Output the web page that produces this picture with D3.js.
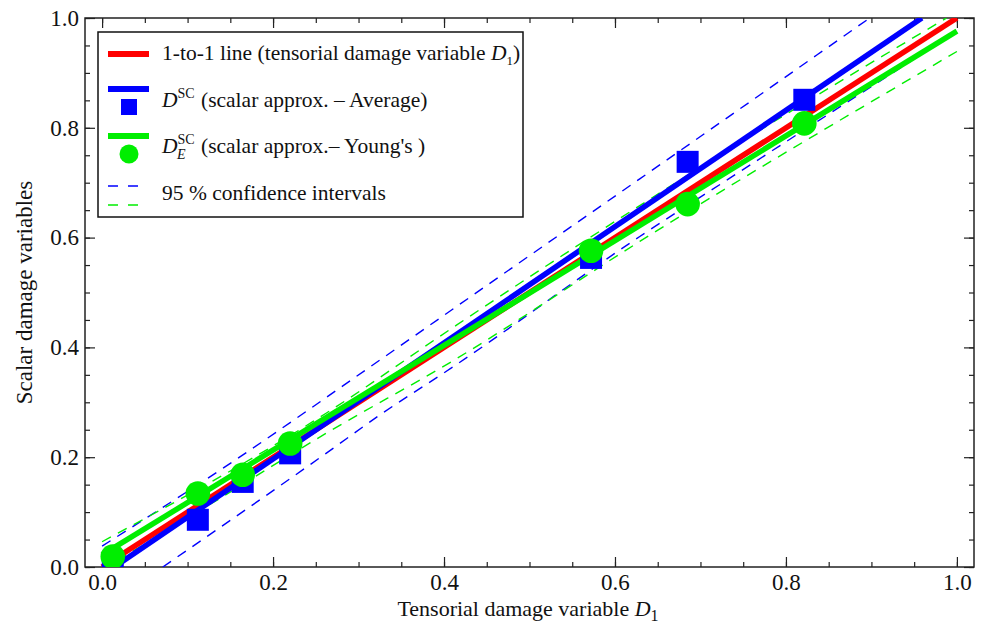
<!DOCTYPE html>
<html lang="en">
<head>
    <meta charset="UTF-8">
    <title>Scalar vs tensorial damage</title>
    <script src="https://d3js.org/d3.v7.min.js"></script>
    <style>
        body { margin: 0; background: #fff; }
        svg { font-family: "Liberation Serif", "DejaVu Serif", serif; }
    </style>
</head>
<body>
<script>
    // points
    const tensorD = [0.0125, 0.112, 0.1645, 0.22, 0.572, 0.685, 0.8215];
    const scAverage = [0.003, 0.086, 0.155, 0.207, 0.563, 0.738, 0.851];
    const scYoung = [0.019, 0.134, 0.168, 0.225, 0.576, 0.661, 0.808];

    // fitted lines [x, y]
    const oneToOne = [[0, 0], [1, 1]];
    const fitAverage = [[0, -0.015], [0.959, 1.0]];
    const fitYoung = [[0, 0.022], [1, 0.976]];

    // 95 % confidence bands [x, y]
    const avgUpper = [[0, 0.038], [0.153, 0.192], [0.325, 0.377], [0.417, 0.477], [0.629, 0.707], [0.898, 1.0]];
    const avgLower = [[0.071, 0.0], [0.262, 0.207], [0.325, 0.277], [0.411, 0.365], [0.629, 0.602], [0.746, 0.72], [0.863, 0.838], [1.0, 0.975]];
    const youngUpper = [[0, 0.046], [0.262, 0.28], [0.415, 0.441], [0.707, 0.735], [0.793, 0.818], [0.988, 1.0]];
    const youngLower = [[0, -0.005], [0.122, 0.11], [0.262, 0.2435], [0.413, 0.378], [0.629, 0.593], [1.0, 0.939]];

    const majorTicks = [0, 0.2, 0.4, 0.6, 0.8, 1.0];
    const minorTicks = d3.range(0, 21).map(i => i * 0.05);

    const blue = "#0000ff", red = "#ff0000", green = "#00ee00";

    const width = 984, height = 634;
    const frame = { left: 85, right: 974, top: 18, bottom: 567 };
    const serif = "Liberation Serif";

    const svg = d3.select("body").append("svg")
        .attr("width", width)
        .attr("height", height)
        .style("font-family", serif);

    const x = d3.scaleLinear().domain([-0.02, 1.02]).range([frame.left, frame.right]);
    const y = d3.scaleLinear().domain([0, 1]).range([frame.bottom, frame.top]);

    svg.append("clipPath").attr("id", "plot")
        .append("rect")
        .attr("x", frame.left).attr("y", frame.top)
        .attr("width", frame.right - frame.left).attr("height", frame.bottom - frame.top);

    // axes: inward ticks on all four sides
    const fmt = d3.format(".1f");
    function styleAxis(g) {
        g.attr("font-family", serif).attr("font-size", 23);
        g.select(".domain").remove();
        g.selectAll(".tick line").attr("stroke", "#222").attr("stroke-width", 1.2);
        g.selectAll(".tick text").attr("fill", "#111");
    }
    svg.append("g").attr("transform", `translate(0,${frame.bottom})`)
        .call(d3.axisBottom(x).tickValues(minorTicks).tickSize(-5).tickFormat(""))
        .call(styleAxis);
    svg.append("g").attr("transform", `translate(0,${frame.bottom})`)
        .call(d3.axisBottom(x).tickValues(majorTicks).tickSize(-10).tickPadding(7).tickFormat(fmt))
        .call(styleAxis);
    svg.append("g").attr("transform", `translate(0,${frame.top})`)
        .call(d3.axisTop(x).tickValues(minorTicks).tickSize(-5).tickFormat(""))
        .call(styleAxis);
    svg.append("g").attr("transform", `translate(0,${frame.top})`)
        .call(d3.axisTop(x).tickValues(majorTicks).tickSize(-10).tickFormat(""))
        .call(styleAxis);
    svg.append("g").attr("transform", `translate(${frame.left},0)`)
        .call(d3.axisLeft(y).tickValues(minorTicks).tickSize(-5).tickFormat(""))
        .call(styleAxis);
    svg.append("g").attr("transform", `translate(${frame.left},0)`)
        .call(d3.axisLeft(y).tickValues(majorTicks).tickSize(-10).tickPadding(6).tickFormat(fmt))
        .call(styleAxis);
    svg.append("g").attr("transform", `translate(${frame.right},0)`)
        .call(d3.axisRight(y).tickValues(minorTicks).tickSize(-5).tickFormat(""))
        .call(styleAxis);
    svg.append("g").attr("transform", `translate(${frame.right},0)`)
        .call(d3.axisRight(y).tickValues(majorTicks).tickSize(-10).tickFormat(""))
        .call(styleAxis);

    svg.append("rect")
        .attr("x", frame.left).attr("y", frame.top)
        .attr("width", frame.right - frame.left).attr("height", frame.bottom - frame.top)
        .attr("fill", "none").attr("stroke", "#222").attr("stroke-width", 1.5);

    const plot = svg.append("g").attr("clip-path", "url(#plot)");
    const line = d3.line().x(d => x(d[0])).y(d => y(d[1]));
    const band = d3.line().x(d => x(d[0])).y(d => y(d[1])).curve(d3.curveMonotoneX);

    // dashed confidence bands
    [[avgUpper, blue], [avgLower, blue], [youngUpper, green], [youngLower, green]].forEach(([pts, c]) => {
        plot.append("path").datum(pts)
            .attr("fill", "none").attr("stroke", c)
            .attr("stroke-width", 1.4).attr("stroke-dasharray", "10,8")
            .attr("d", band);
    });

    // thick fitted lines
    [[oneToOne, red], [fitAverage, blue], [fitYoung, green]].forEach(([pts, c]) => {
        plot.append("path").datum(pts)
            .attr("fill", "none").attr("stroke", c)
            .attr("stroke-width", 5.5)
            .attr("d", line);
    });

    // markers
    const sq = 22;
    plot.selectAll(".sq").data(tensorD).enter().append("rect")
        .attr("x", d => x(d) - sq / 2)
        .attr("y", (d, i) => y(scAverage[i]) - sq / 2)
        .attr("width", sq).attr("height", sq)
        .attr("fill", blue);
    plot.selectAll(".dot").data(tensorD).enter().append("circle")
        .attr("cx", d => x(d))
        .attr("cy", (d, i) => y(scYoung[i]))
        .attr("r", 12.3)
        .attr("fill", green);

    // axis titles
    const xt = svg.append("text")
        .attr("x", 528).attr("y", 616)
        .attr("text-anchor", "middle")
        .style("font-size", "22px").attr("fill", "#111");
    xt.append("tspan").text("Tensorial damage variable ");
    xt.append("tspan").style("font-style", "italic").text("D");
    xt.append("tspan").attr("dy", 5).style("font-size", "16px").text("1");

    svg.append("text")
        .attr("transform", `translate(32,${(frame.top + frame.bottom) / 2}) rotate(-90)`)
        .attr("text-anchor", "middle")
        .style("font-size", "23px").attr("fill", "#111")
        .text("Scalar damage variables");

    // legend
    const lg = svg.append("g");
    lg.append("rect")
        .attr("x", 98).attr("y", 32).attr("width", 425).attr("height", 185)
        .attr("fill", "#fff").attr("stroke", "#111").attr("stroke-width", 1.5);

    const lx0 = 108, lx1 = 149, tx = 162, fs = "21.5px";
    lg.append("line").attr("x1", lx0).attr("x2", lx1).attr("y1", 54).attr("y2", 54)
        .attr("stroke", red).attr("stroke-width", 6);
    lg.append("line").attr("x1", lx0).attr("x2", lx1).attr("y1", 89).attr("y2", 89)
        .attr("stroke", blue).attr("stroke-width", 6);
    lg.append("rect").attr("x", 129 - 8).attr("y", 107 - 8).attr("width", 16).attr("height", 16)
        .attr("fill", blue);
    lg.append("line").attr("x1", lx0).attr("x2", lx1).attr("y1", 136).attr("y2", 136)
        .attr("stroke", green).attr("stroke-width", 6);
    lg.append("circle").attr("cx", 129).attr("cy", 154).attr("r", 9.5).attr("fill", green);
    lg.append("line").attr("x1", lx0).attr("x2", lx1 - 6).attr("y1", 186).attr("y2", 186)
        .attr("stroke", blue).attr("stroke-width", 1.6).attr("stroke-dasharray", "10,10");
    lg.append("line").attr("x1", lx0).attr("x2", lx1 - 6).attr("y1", 205).attr("y2", 205)
        .attr("stroke", green).attr("stroke-width", 1.6).attr("stroke-dasharray", "10,10");

    const t1 = lg.append("text").attr("x", tx).attr("y", 60).style("font-size", fs).attr("fill", "#111");
    t1.append("tspan").text("1-to-1 line (tensorial damage variable ");
    t1.append("tspan").style("font-style", "italic").text("D");
    t1.append("tspan").attr("dy", 5).style("font-size", "13px").text("1");
    t1.append("tspan").attr("dy", -5).text(")");

    const t2 = lg.append("text").attr("x", tx).attr("y", 107).style("font-size", fs).attr("fill", "#111");
    t2.append("tspan").style("font-style", "italic").text("D");
    t2.append("tspan").attr("dy", -9).style("font-size", "14px").text("SC");
    t2.append("tspan").attr("x", 201).attr("dy", 9).text("(scalar approx. – Average)");

    const t3 = lg.append("text").attr("x", tx).attr("y", 153).style("font-size", fs).attr("fill", "#111");
    t3.append("tspan").style("font-style", "italic").text("D");
    t3.append("tspan").attr("dy", -9).style("font-size", "14px").text("SC");
    t3.append("tspan").attr("x", 177).attr("dy", 15).style("font-size", "14px").style("font-style", "italic").text("E");
    t3.append("tspan").attr("x", 201).attr("dy", -6).text("(scalar approx.– Young's )");

    lg.append("text").attr("x", tx).attr("y", 200).style("font-size", fs).attr("fill", "#111")
        .text("95 % confidence intervals");
</script>
</body>
</html>
